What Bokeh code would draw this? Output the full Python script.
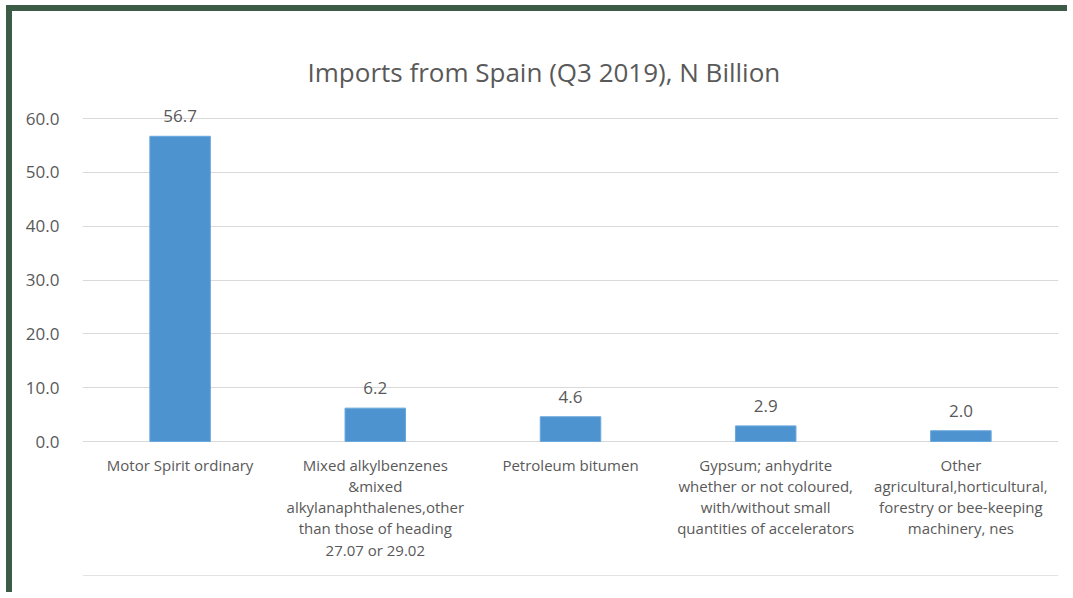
from bokeh.plotting import figure
from bokeh.models import FactorRange, Range1d, Title, ColumnDataSource, FixedTicker, CustomJSTickFormatter, Span
from bokeh.embed import file_html
from bokeh.resources import INLINE
from bokeh.core.properties import value

categories = [
    "Motor Spirit ordinary",
    "Mixed alkylbenzenes\n&mixed\nalkylanaphthalenes,other\nthan those of heading\n27.07 or 29.02",
    "Petroleum bitumen",
    "Gypsum; anhydrite\nwhether or not coloured,\nwith/without small\nquantities of accelerators",
    "Other\nagricultural,horticultural,\nforestry or bee-keeping\nmachinery, nes",
]
values = [56.7, 6.2, 4.6, 2.9, 2.0]
labels = ["56.7", "6.2", "4.6", "2.9", "2.0"]
y_ticks = [0, 10, 20, 30, 40, 50, 60]

FONT = "Open Sans"
GREY = "#595959"

src = ColumnDataSource(dict(cat=categories, val=values, lab=labels))

# split category labels into separate lines, drawn as text under the zero line
line_cat, line_txt, line_off = [], [], []
for c in categories:
    for i, t in enumerate(c.split("\n")):
        line_cat.append(c)
        line_txt.append(t)
        line_off.append(23 + i * 21.3)
lines_src = ColumnDataSource(dict(cat=line_cat, txt=line_txt, off=line_off, y=[0] * len(line_cat)))

p = figure(
    x_range=FactorRange(*categories, range_padding=0),
    y_range=Range1d(-25.45, 63.35),
    width=1061, height=587,
    output_backend="svg", toolbar_location=None,
    min_border_left=70, min_border_right=15, min_border_top=89, min_border_bottom=20,
    outline_line_color=None,
    background_fill_color="white", border_fill_color="white",
)
p.styles = {"border-left": "6px solid #3d5c47", "border-top": "6px solid #3d5c47",
            "margin-left": "6px", "margin-top": "5px"}

p.title = Title(text="Imports from Spain (Q3 2019), N Billion", align="left",
                text_font=FONT, text_font_size="26px", text_color=GREY,
                text_font_style="normal", offset=225, standoff=21)

# faint chart-area separator near the bottom
p.add_layout(Span(location=-24.9, dimension="width", line_color="#e3e3e3", line_width=1))

p.vbar(x="cat", top="val", width=0.31, source=src,
       fill_color="#4d93d0", line_color="#6aa7dc", line_width=1)
p.text(x="cat", y="val", text="lab", source=src, text_align="center",
       text_baseline="middle", y_offset=-20, text_font=value(FONT),
       text_font_size="17px", text_color=GREY)
p.text(x="cat", y="y", text="txt", source=lines_src, text_align="center",
       text_baseline="middle", y_offset="off", text_font=value(FONT),
       text_font_size="15px", text_color=GREY)

p.yaxis.ticker = FixedTicker(ticks=y_ticks)
p.yaxis.formatter = CustomJSTickFormatter(code="return tick.toFixed(1);")
p.yaxis.axis_line_color = None
p.yaxis.major_tick_line_color = None
p.yaxis.minor_tick_line_color = None
p.yaxis.major_label_text_font = FONT
p.yaxis.major_label_text_font_size = "17px"
p.yaxis.major_label_text_color = GREY
p.yaxis.major_label_standoff = 17

p.xaxis.visible = False

p.xgrid.grid_line_color = None
p.ygrid.ticker = FixedTicker(ticks=y_ticks)
p.ygrid.grid_line_color = "#d9d9d9"
p.ygrid.grid_line_width = 1

open("out.html", "w").write(file_html(p, INLINE))
